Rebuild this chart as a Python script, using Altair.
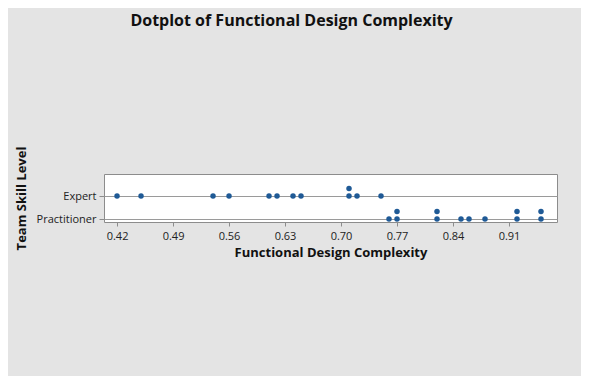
import altair as alt
import pandas as pd

expert = [0.42, 0.45, 0.54, 0.56, 0.61, 0.62, 0.64, 0.65, 0.71, 0.71, 0.72, 0.75]
practitioner = [0.76, 0.77, 0.77, 0.82, 0.82, 0.85, 0.86, 0.88, 0.92, 0.92, 0.95, 0.95]
levels = ["Practitioner", "Expert"]
x_ticks = [0.42, 0.49, 0.56, 0.63, 0.70, 0.77, 0.84, 0.91]

rows = []
for lvl, vals in [("Expert", expert), ("Practitioner", practitioner)]:
    for v in vals:
        rows.append({"level": lvl, "value": v})
df = pd.DataFrame(rows)
df["stack"] = df.groupby(["level", "value"]).cumcount()
df["ypos"] = df["level"].map({n: i for i, n in enumerate(levels)}) + df["stack"] * 0.33

chart = alt.Chart(df).mark_circle(size=30, color="#1f5a96", opacity=1).encode(
    x=alt.X("value:Q", scale=alt.Scale(domain=[0.4037, 0.97], nice=False, zero=False),
            axis=alt.Axis(values=x_ticks, format=".2f", title="Functional Design Complexity",
                          grid=False, tickSize=4, labelPadding=4, titlePadding=5)),
    y=alt.Y("ypos:Q", scale=alt.Scale(domain=[-0.13, 1.957], nice=False, zero=False),
            axis=alt.Axis(values=[0, 1], labelExpr="datum.value == 0 ? 'Practitioner' : 'Expert'",
                          title="Team Skill Level", grid=True, tickSize=5, labelPadding=3,
                          titlePadding=8)),
).properties(
    width=453, height=48,
    title=alt.TitleParams("Dotplot of Functional Design Complexity", offset=117, dx=-39,
                          fontSize=16, font="Open Sans", fontWeight="bold", color="#111111"),
    autosize=alt.AutoSizeParams(type="none"),
    padding={"left": 96, "top": 166, "right": 24, "bottom": 154},
    background="#e4e4e4",
).configure_view(
    fill="white", stroke="#8c8c8c", strokeWidth=1
).configure_axis(
    labelFont="Open Sans", labelFontSize=11, labelColor="#222222",
    titleFont="Open Sans", titleFontSize=13, titleFontWeight="bold", titleColor="#111111",
    domain=False, tickColor="#8c8c8c", gridColor="#9a9a9a"
)

chart.save("out.html", embed_options={"renderer": "svg", "actions": False})
